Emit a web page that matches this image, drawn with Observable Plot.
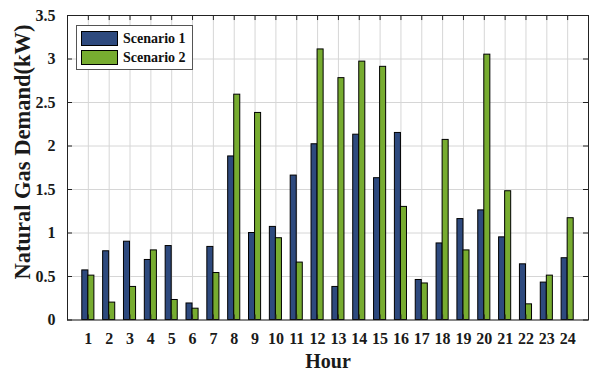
<!DOCTYPE html>
<html><head><meta charset="utf-8">
<script src="https://cdn.jsdelivr.net/npm/d3@7"></script>
<script src="https://cdn.jsdelivr.net/npm/@observablehq/plot@0.6"></script>
<style>
body{margin:0;background:#fff;}
#wrap{position:relative;width:590px;height:374px;}
#wrap svg text{font-family:"Liberation Serif","Times New Roman",serif;font-weight:bold;}
#legend{position:absolute;left:76px;top:25px;width:117px;height:45px;border:1px solid #555;background:#fff;box-sizing:border-box;font-family:"Liberation Serif","Times New Roman",serif;font-weight:bold;font-size:14px;color:#111;}
.row{position:absolute;left:4px;height:15px;display:flex;align-items:center;}
.sw{width:37px;height:15px;border:1px solid #000;box-sizing:border-box;margin-right:5px;}
</style></head>
<body><div id="wrap"><div id="legend"></div></div>
<script>
const hours = d3.range(1, 25);
const seriesNames = ["Scenario 1", "Scenario 2"];
const seriesColors = ["#2e4a7e", "#77ac30"];
const scenario1 = [0.57,0.79,0.90,0.69,0.85,0.19,0.84,1.88,1.00,1.07,1.66,2.02,0.38,2.13,1.63,2.15,0.46,0.88,1.16,1.26,0.95,0.64,0.43,0.71];
const scenario2 = [0.51,0.20,0.38,0.80,0.23,0.13,0.54,2.59,2.38,0.94,0.66,3.11,2.78,2.97,2.91,1.30,0.42,2.07,0.80,3.05,1.48,0.18,0.51,1.17];
const yTicks = [0,0.5,1,1.5,2,2.5,3,3.5];
const xLabel = "Hour";
const yLabel = "Natural Gas Demand(kW)";

const halfW = 0.29;
const data = [];
hours.forEach((h,i)=>{
  data.push({hour:h, s:0, x1:h-halfW, x2:h, v:scenario1[i]});
  data.push({hour:h, s:1, x1:h, x2:h+halfW, v:scenario2[i]});
});
const tickLen = 0.058; // y units
const xTickLen = 0.24; // x units

const chart = Plot.plot({
  width: 590, height: 374,
  marginLeft: 67, marginRight: 2, marginTop: 15, marginBottom: 54.5,
  style: "font-family: 'Liberation Serif', 'Times New Roman', serif; font-weight: bold; background: #fff; color: #1a1a1a;",
  x: {domain: [0, 25], label: null},
  y: {domain: [0, 3.5], label: null},
  marks: [
    Plot.gridX(hours, {stroke: "#d6d6d6", strokeOpacity: 1, strokeWidth: 1}),
    Plot.gridY(yTicks, {stroke: "#d6d6d6", strokeOpacity: 1, strokeWidth: 1}),
    Plot.rectY(data, {x1: "x1", x2: "x2", y1: 0, y2: "v", fill: d => seriesColors[d.s], stroke: "#000", strokeWidth: 1}),
    Plot.ruleX(hours, {y1: 3.5, y2: 3.5 - tickLen, stroke: "#222"}),
    Plot.ruleX(hours, {y1: 0, y2: tickLen, stroke: "#222"}),
    Plot.ruleY(yTicks, {x1: 0, x2: xTickLen, stroke: "#222"}),
    Plot.ruleY(yTicks, {x1: 25, x2: 25 - xTickLen, stroke: "#222"}),
    Plot.frame({stroke: "#222", strokeWidth: 1}),
    Plot.axisX(hours, {tickSize: 0, tickPadding: 13, fontSize: 16, fill: "#1a1a1a", tickFormat: d => String(d), label: null}),
    Plot.axisY(yTicks, {tickSize: 0, tickPadding: 12, fontSize: 16, fill: "#1a1a1a", tickFormat: d => String(d), label: null}),
    Plot.text([xLabel], {x: 12.5, y: 0, text: d => d, dy: 42, fontSize: 20, fill: "#1a1a1a"}),
    Plot.text([yLabel], {x: 0, y: 1.93, text: d => d, dx: -45, rotate: -90, fontSize: 22.5, fill: "#1a1a1a"})
  ]
});
const wrap = document.getElementById("wrap");
wrap.insertBefore(chart, wrap.firstChild);
const lg = document.getElementById("legend");
seriesNames.forEach((n,i)=>{
  const r = document.createElement("div");
  r.className="row"; r.style.top = (5 + i*19) + "px";
  r.innerHTML = `<div class="sw" style="background:${seriesColors[i]}"></div><span>${n}</span>`;
  lg.appendChild(r);
});
</script></body></html>
